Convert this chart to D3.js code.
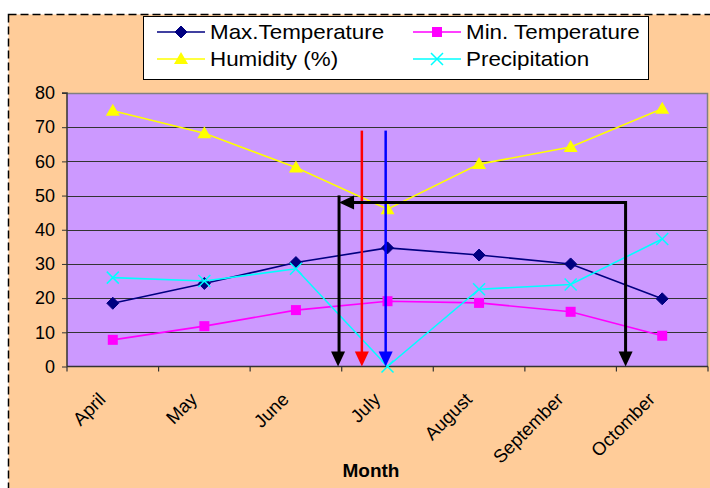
<!DOCTYPE html>
<html><head><meta charset="utf-8">
<script src="https://cdn.jsdelivr.net/npm/d3@7"></script>
<style>body{margin:0;background:#fff}svg{display:block;font-family:"Liberation Sans",Arial,sans-serif}</style>
</head><body><svg id="c" width="710" height="488"></svg>
<script>
const months = ["April","May","June","July","August","September","Octomber"];
const maxTemp = [18.5, 24.3, 30.4, 34.7, 32.6, 30.0, 19.8];
const minTemp = [7.8, 11.8, 16.5, 19.1, 18.6, 16.0, 9.0];
const humidity = [74.8, 68.2, 58.2, 46.0, 59.2, 64.2, 75.4];
const precipitation = [26.0, 25.0, 28.6, 0, 22.6, 24.0, 37.3];
const yTicks = [0,10,20,30,40,50,60,70,80];
const seriesNames = ["Max.Temperature","Min. Temperature","Humidity (%)","Precipitation"];
// annotation arrows (x in category units 0..7, y in data units)
const arrowsV = [
  {x:3.22, y0:69, y1:0, color:"#FF0000"},
  {x:3.48, y0:69, y1:0, color:"#0000FF"}
];
const blackPath = {xl:2.96, xr:6.10, y:48};

const svg = d3.select("#c");
const L=67, R=708, T=93, B=366.5;

// outer frame
svg.append("rect").attr("x",8.5).attr("y",14.5).attr("width",720).attr("height",490)
  .attr("fill","#FFCC99").attr("stroke","#000").attr("stroke-width",1.5).attr("stroke-dasharray","8,4");

const x = d3.scaleBand().domain(months).range([L,R]).padding(0);
const xc = m => x(m)+x.bandwidth()/2;
const xu = d3.scaleLinear().domain([0,7]).range([L,R]);
const y = d3.scaleLinear().domain([0,80]).range([B,T]);

svg.append("rect").attr("x",L).attr("y",T).attr("width",R-L).attr("height",B-T).attr("fill","#CC99FF");
// gridlines
svg.append("g").selectAll("line").data(yTicks.filter(v=>v>0&&v<80)).join("line")
  .attr("x1",L).attr("x2",R).attr("y1",d=>Math.round(y(d))+0.5).attr("y2",d=>Math.round(y(d))+0.5)
  .attr("stroke","#333").attr("stroke-width",1);
// plot border
svg.append("path").attr("d",`M${L},${T+0.5}H${R-0.5}V${B}`).attr("fill","none").attr("stroke","#808080").attr("stroke-width",1.5);

// y axis
const yAxis = d3.axisLeft(y).tickValues(yTicks).tickSize(5).tickPadding(7);
const gy = svg.append("g").attr("transform",`translate(${L},0)`).call(yAxis);
gy.select(".domain").attr("stroke","#333").attr("stroke-width",1.5).attr("d",`M-5,${T}H0V${B}`);
gy.selectAll(".tick line").attr("stroke","#333");
gy.selectAll("text").attr("font-size",18).attr("fill","#000").attr("font-family","Liberation Sans, Arial, sans-serif");

// x axis
svg.append("line").attr("x1",L).attr("x2",R).attr("y1",B).attr("y2",B).attr("stroke","#333").attr("stroke-width",1.5);
svg.append("g").selectAll("line").data(d3.range(8)).join("line")
  .attr("x1",d=>xu(d)).attr("x2",d=>xu(d)).attr("y1",B).attr("y2",B+5).attr("stroke","#333").attr("stroke-width",1.2);
svg.append("g").selectAll("text").data(months).join("text")
  .attr("transform",d=>`translate(${xc(d)-6},${B+34}) rotate(-45)`)
  .attr("text-anchor","end").attr("font-size",18.5).text(d=>d);
svg.append("text").attr("x",371).attr("y",477).attr("text-anchor","middle").attr("font-size",19).attr("font-weight","bold").text("Month");

// marker functions
function marker(g, type, color){
  if(type==="diamond") g.append("path").attr("d","M0,-6L6,0L0,6L-6,0Z").attr("fill",color).attr("stroke",color);
  else if(type==="square") g.append("rect").attr("x",-5).attr("y",-5).attr("width",10).attr("height",10).attr("fill",color);
  else if(type==="triangle") g.append("path").attr("d","M0,-7L7,5L-7,5Z").attr("fill",color);
  else if(type==="x") g.append("path").attr("d","M-6,-6L6,6M-6,6L6,-6").attr("stroke",color).attr("stroke-width",1.5).attr("fill","none");
}
const series = [
  {name:seriesNames[0], values:maxTemp, color:"#000080", type:"diamond"},
  {name:seriesNames[1], values:minTemp, color:"#FF00FF", type:"square"},
  {name:seriesNames[2], values:humidity, color:"#FFFF00", type:"triangle"},
  {name:seriesNames[3], values:precipitation, color:"#00FFFF", type:"x"}
];
const line = d3.line().x((d,i)=>xc(months[i])).y(d=>y(d));
series.forEach(s=>{
  svg.append("path").datum(s.values).attr("d",line).attr("fill","none").attr("stroke",s.color).attr("stroke-width",1.6);
  s.values.forEach((v,i)=>{
    const g = svg.append("g").attr("transform",`translate(${xc(months[i])},${y(v)})`);
    marker(g,s.type,s.color);
  });
});

// annotation arrows
function arrowDown(xp, yTip, color){
  svg.append("path").attr("d",`M${xp-7},${yTip-15}L${xp+7},${yTip-15}L${xp},${yTip}Z`).attr("fill",color);
}
arrowsV.forEach(a=>{
  svg.append("line").attr("x1",xu(a.x)).attr("x2",xu(a.x)).attr("y1",y(a.y0)).attr("y2",y(a.y1)-12)
    .attr("stroke",a.color).attr("stroke-width",2.5);
  arrowDown(xu(a.x), y(a.y1), a.color);
});
const bxl=xu(blackPath.xl), bxr=xu(blackPath.xr), by=y(blackPath.y);
svg.append("path").attr("d",`M${bxl+12},${by}H${bxr}V${B-12}`).attr("fill","none").attr("stroke","#000").attr("stroke-width",3);
svg.append("path").attr("d",`M${bxl+1},${by-7}V${B-12}`).attr("fill","none").attr("stroke","#000").attr("stroke-width",3);
svg.append("path").attr("d",`M${bxl+1},${by}L${bxl+16},${by-7}L${bxl+16},${by+7}Z`).attr("fill","#000");
arrowDown(bxl, B, "#000");
arrowDown(bxr, B, "#000");

// legend
const lg = svg.append("g");
lg.append("rect").attr("x",143.5).attr("y",16.5).attr("width",505).attr("height",63).attr("fill","#fff").attr("stroke","#000").attr("stroke-width",1);
const lpos = [[157,32],[413,32],[157,59],[413,59]];
series.forEach((s,i)=>{
  const [lx,ly]=lpos[i];
  lg.append("line").attr("x1",lx).attr("x2",lx+48).attr("y1",ly).attr("y2",ly).attr("stroke",s.color).attr("stroke-width",1.6);
  marker(lg.append("g").attr("transform",`translate(${lx+24},${ly})`), s.type, s.color);
  lg.append("text").attr("transform",`translate(${lx+53},${ly+7}) scale(1.12,1)`).attr("font-size",20).text(s.name);
});
</script></body></html>
